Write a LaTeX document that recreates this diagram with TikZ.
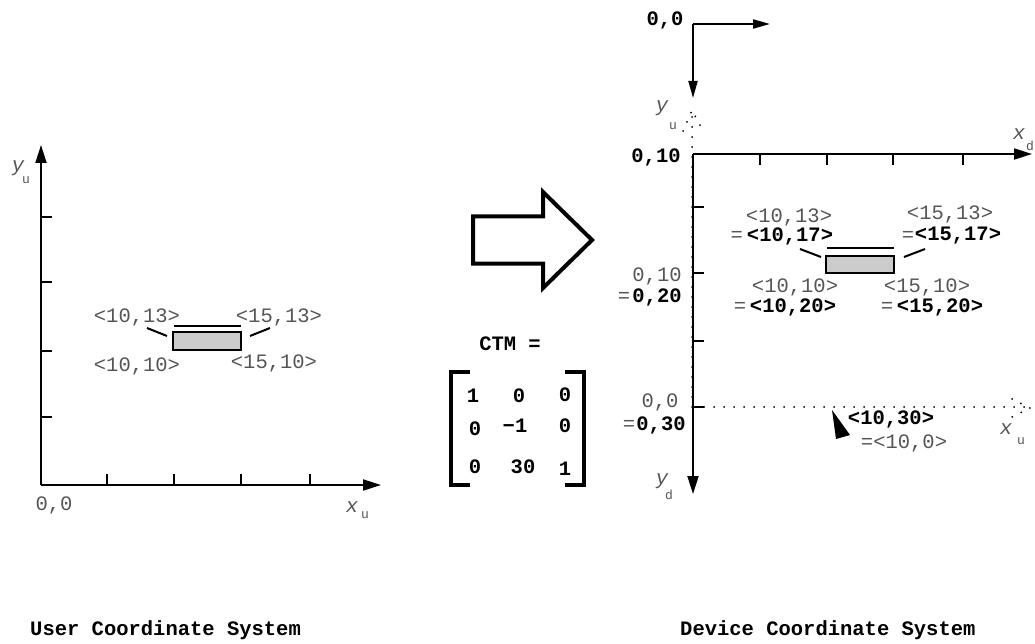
\documentclass[tikz,border=0pt]{standalone}
\usepackage{fontspec}
\setmainfont{Liberation Mono}
\usetikzlibrary{arrows.meta}
\definecolor{txtgray}{HTML}{555555}
\definecolor{boxgray}{HTML}{CCCCCC}
\begin{document}
\begin{tikzpicture}[x=1pt,y=-1pt,
  lbl/.style={font=\fontsize{20.5}{24}\selectfont, text=txtgray, inner sep=0pt},
  blbl/.style={font=\fontsize{20.5}{24}\selectfont\bfseries, text=black, inner sep=0pt},
  ttl/.style={font=\fontsize{20.5}{24}\selectfont\bfseries, text=black, inner sep=0pt},
  varlbl/.style={font=\fontsize{20.5}{24}\selectfont\itshape, text=txtgray, inner sep=0pt},
  sublbl/.style={font=\fontsize{13}{15}\selectfont, text=txtgray, inner sep=0pt},
  axisline/.style={line width=2pt, -{Triangle[length=18pt,width=11pt]}},
  smallaxis/.style={line width=2pt, -{Triangle[length=17pt,width=9pt]}},
  tickline/.style={line width=2pt},
  dotline/.style={line width=2pt, line cap=round, dash pattern=on 0pt off 10pt},
  thickline/.style={line width=4pt, line join=miter},
  leader/.style={line width=2pt},
  rectbox/.style={draw, line width=2pt, fill=boxgray}
]
\useasboundingbox (0,0) rectangle (1035,644);

% ---------------- Left: user coordinate system ----------------
\coordinate (uo) at (41,485);
\coordinate (uy) at (41,145);
\coordinate (ux) at (381,485);
\draw[axisline] (uo) -- (uy);
\draw[axisline] (uo) -- (ux);
\foreach \yy in {217,282,351,417} \draw[tickline] (41,\yy) -- (52,\yy);
\foreach \xx in {107,174,241,310} \draw[tickline] (\xx,485) -- (\xx,474);
\node[varlbl] (uyl) at (18,168) {y};
\node[sublbl] (uyls) at (26,180) {u};
\node[lbl] (uorig) at (54,505) {0,0};
\node[varlbl] (uxl) at (352,507) {x};
\node[sublbl] (uxls) at (365,515) {u};

\node[rectbox, minimum width=68pt, minimum height=18pt, inner sep=0pt] (urect) at (207,341) {};
\draw[line width=1.5pt] (174,326) -- (241,326);
\draw[leader] (147,328) -- (167,336);
\draw[leader] (250,336) -- (270,328);
\node[lbl] (u1013) at (137,317) {<10,13>};
\node[lbl] (u1513) at (279,317) {<15,13>};
\node[lbl] (u1010) at (137,366) {<10,10>};
\node[lbl] (u1510) at (274,363) {<15,10>};

% ---------------- Middle: arrow and CTM ----------------
\draw[thickline] (473,216.5) -- (543,216.5) -- (543,192) -- (592,240) -- (543,288) -- (543,263.5) -- (473,263.5) -- cycle;
\node[blbl] (ctm) at (510,344) {CTM =};
\draw[thickline] (470,372) -- (451,372) -- (451,485) -- (470,485);
\draw[thickline] (565,372) -- (584,372) -- (584,485) -- (565,485);
\node[blbl] (m11) at (473,396) {1};
\node[blbl] (m12) at (519,396) {0};
\node[blbl] (m13) at (565,395) {0};
\node[blbl] (m21) at (475,429) {0};
\node[blbl] (m22) at (515,426) {−1};
\node[blbl] (m23) at (565,426) {0};
\node[blbl] (m31) at (475,467) {0};
\node[blbl] (m32) at (523,467) {30};
\node[blbl] (m33) at (565,469) {1};

% ---------------- Right: device coordinate system ----------------
\coordinate (dc) at (693,24);
\draw[smallaxis] (dc) -- (770,24);
\draw[smallaxis] (dc) -- (693,98);
\node[blbl] (d00) at (665,20) {0,0};

% dotted user y axis
\draw[dotline] (692,407) -- (692,110);
\draw[dotline] (683,131) -- (692,110) -- (703,131);
\node[varlbl] (dyu) at (662,108) {y};
\node[sublbl] (dyus) at (673,126) {u};

% device axes
\coordinate (dO) at (693,154);
\draw[axisline] (dO) -- (1032,154);
\draw[axisline] (dO) -- (693,494);
\foreach \xx in {760,827,893,963} \draw[tickline] (\xx,154) -- (\xx,165);
\foreach \yy in {207,273,341,407} \draw[tickline] (693,\yy) -- (704,\yy);
\node[varlbl] (dxd) at (1019,134) {x};
\node[sublbl] (dxds) at (1030,146) {d};
\node[varlbl] (dyd) at (662,481) {y};
\node[sublbl] (dyds) at (669,495) {d};
\node[blbl] (d010) at (656,157) {0,10};

% dotted user x axis
\draw[dotline] (704,407) -- (1030,407);
\draw[dotline] (1012,399) -- (1030,408) -- (1012,417);
\node[varlbl] (dxu) at (1006,429) {x};
\node[sublbl] (dxus) at (1021,441) {u};

% rectangle in device space
\node[rectbox, minimum width=68pt, minimum height=17pt, inner sep=0pt] (drect) at (860,264.5) {};
\draw[line width=1.5pt] (827,248) -- (894,248);
\draw[leader] (800,249) -- (821,257);
\draw[leader] (904,257) -- (925,249);

\node[lbl] (d1013) at (789,217) {<10,13>};
\node[lbl, anchor=east] (d1017e) at (743,236) {=};
\node[blbl] (d1017) at (790,236) {<10,17>};
\node[lbl] (d1513) at (950,214) {<15,13>};
\node[lbl] (d1517e) at (908,236) {=};
\node[blbl] (d1517) at (958,236) {<15,17>};
\node[lbl] (d1010) at (795,287) {<10,10>};
\node[lbl] (d1020e) at (740,307) {=};
\node[blbl] (d1020) at (793,307) {<10,20>};
\node[lbl] (d1510) at (927,287) {<15,10>};
\node[lbl] (d1520e) at (887,307) {=};
\node[blbl] (d1520) at (940,307) {<15,20>};

\node[lbl] (d010g) at (657,276) {0,10};
\node[lbl] (d020e) at (624,297) {=};
\node[blbl] (d020) at (657,297) {0,20};
\node[lbl] (d00g) at (660,402) {0,0};
\node[lbl] (d030e) at (629,425) {=};
\node[blbl] (d030) at (661,425) {0,30};

\fill (832,410) -- (836,439) -- (850,435) -- cycle;
\node[blbl] (d1030) at (891,419) {<10,30>};
\node[lbl] (d100) at (904,443) {=<10,0>};

% ---------------- Titles ----------------
\node[ttl, anchor=west] (tuser) at (30,630) {User Coordinate System};
\node[ttl, anchor=west] (tdev) at (680,630) {Device Coordinate System};
\end{tikzpicture}
\end{document}
